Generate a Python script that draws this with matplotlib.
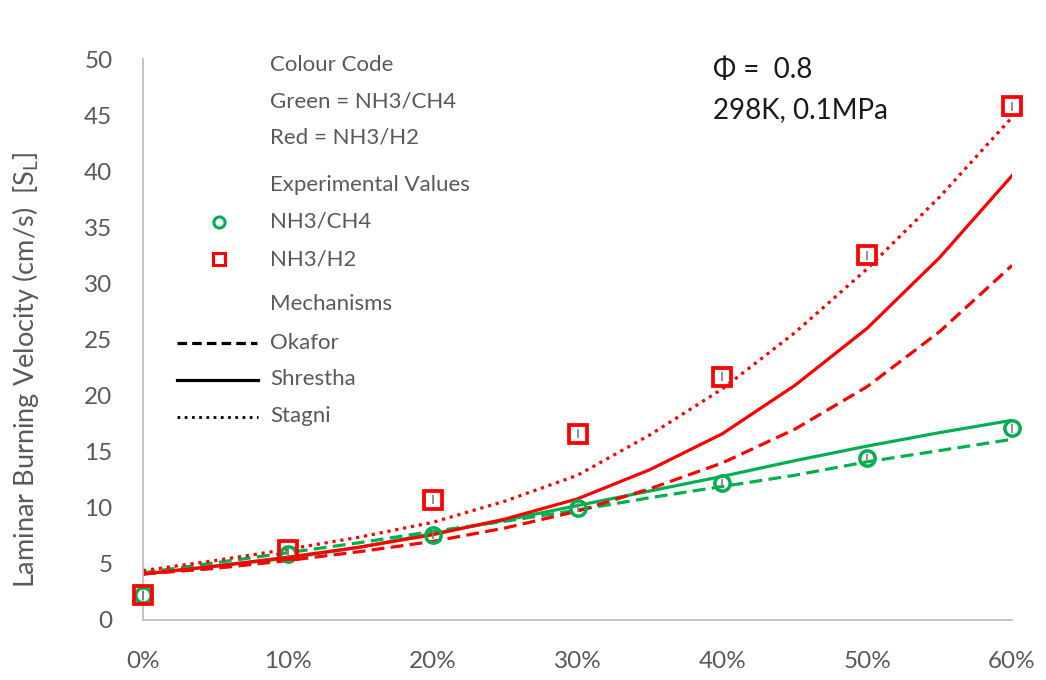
import matplotlib
matplotlib.use("Agg")
import matplotlib.pyplot as plt
from matplotlib.lines import Line2D

plt.rcParams['font.family'] = ['Lato', 'DejaVu Sans']

# experimental points (fraction of fuel, %)
x_exp = [0, 10, 20, 30, 40, 50, 60]
ch4_exp = [2.2, 5.9, 7.6, 10.0, 12.2, 14.4, 17.1]
h2_exp = [2.2, 6.2, 10.7, 16.6, 21.7, 32.5, 45.8]
exp_err = 0.4

# mechanism curves, read every 5 %
x_mech = [0, 5, 10, 15, 20, 25, 30, 35, 40, 45, 50, 55, 60]
h2_okafor = [4.1, 4.6, 5.3, 6.1, 7.0, 8.2, 9.7, 11.7, 14.0, 17.0, 20.8, 25.7, 31.6]
h2_shrestha = [4.1, 4.8, 5.6, 6.5, 7.6, 9.0, 10.8, 13.4, 16.6, 20.9, 26.0, 32.3, 39.6]
h2_stagni = [4.4, 5.3, 6.3, 7.4, 8.7, 10.6, 12.9, 16.5, 20.6, 25.6, 31.3, 37.7, 44.8]
ch4_okafor = [4.2, 5.1, 6.0, 6.9, 7.9, 8.8, 9.8, 10.9, 11.9, 12.9, 14.1, 15.1, 16.1]
ch4_shrestha = [4.1, 4.8, 5.5, 6.5, 7.7, 8.9, 10.2, 11.5, 12.8, 14.2, 15.5, 16.7, 17.8]

RED = '#FF0000'
GREEN = '#00B050'
GREY = '#595959'
W, H = 1046, 680

fig = plt.figure(figsize=(W / 100, H / 100), dpi=100)
ax = fig.add_axes([143 / W, 1 - 620 / H, (1012 - 143) / W, (620 - 59) / H])

lw = 2.3
style = dict(lw=lw, solid_joinstyle='round', dash_joinstyle='round')
ax.plot(x_mech, ch4_okafor, color=GREEN, ls=(0, (4, 2)), **style)
ax.plot(x_mech, ch4_shrestha, color=GREEN, **style)
ax.plot(x_mech, h2_okafor, color=RED, ls=(0, (4, 2)), **style)
ax.plot(x_mech, h2_shrestha, color=RED, **style)
ax.plot(x_mech, h2_stagni, color=RED, ls=(0, (1, 1.5)), **style)

ax.errorbar(x_exp, ch4_exp, yerr=exp_err, fmt='o', ms=11, mfc='none', mec=GREEN,
            mew=2.5, ecolor='#7f7f7f', elinewidth=1.2, clip_on=False, zorder=5)
ax.errorbar(x_exp, h2_exp, yerr=exp_err, fmt='s', ms=12.5, mfc='none', mec=RED,
            mew=2.7, ecolor='#7f7f7f', elinewidth=1.2, clip_on=False, zorder=6)

ax.set_xlim(0, 60)
ax.set_ylim(0, 50)
ax.set_xticks(range(0, 61, 10))
ax.set_xticklabels(['%d%%' % v for v in range(0, 61, 10)])
ax.set_yticks(range(0, 51, 5))
for s in ['top', 'right']:
    ax.spines[s].set_visible(False)
for s in ['left', 'bottom']:
    ax.spines[s].set_color('#BFBFBF')
    ax.spines[s].set_linewidth(1.3)
ax.tick_params(length=0, labelsize=17.5, labelcolor=GREY, pad=22)
ax.tick_params(axis='x', pad=22)

ax.set_ylabel(r'Laminar Burning Velocity (cm/s)  [S$_\mathregular{L}$]',
              fontsize=19.5, color=GREY)
ax.yaxis.set_label_coords(-0.117, 0.445)


def fx(px):
    return px / W


def fy(py):
    return 1 - py / H


# hand-made legend
tx = 270
lab = dict(fontsize=16, color=GREY, va='center', ha='left')
fig.text(fx(tx), fy(65), 'Colour Code', **lab)
fig.text(fx(tx), fy(102), 'Green = NH3/CH4', **lab)
fig.text(fx(tx), fy(138), 'Red = NH3/H2', **lab)
fig.text(fx(tx), fy(185), 'Experimental Values', **lab)
fig.text(fx(tx), fy(222), 'NH3/CH4', **lab)
fig.text(fx(tx), fy(259), 'NH3/H2', **lab)
fig.text(fx(tx), fy(304), 'Mechanisms', **lab)
fig.text(fx(tx), fy(343), 'Okafor', **lab)
fig.text(fx(tx), fy(379), 'Shrestha', **lab)
fig.text(fx(tx), fy(416), 'Stagni', **lab)

fig.add_artist(Line2D([fx(219)], [fy(222)], marker='o', ms=8, mfc='none',
                      mec=GREEN, mew=2.2, ls='none'))
fig.add_artist(Line2D([fx(219)], [fy(259)], marker='s', ms=8, mfc='none',
                      mec=RED, mew=2.2, ls='none'))
fig.add_artist(Line2D([fx(177), fx(257)], [fy(343), fy(343)], color='black',
                      lw=2.3, ls=(0, (3, 1.6))))
fig.add_artist(Line2D([fx(177), fx(258)], [fy(380), fy(380)], color='black',
                      lw=2.3))
fig.add_artist(Line2D([fx(177), fx(258)], [fy(417), fy(417)], color='black',
                      lw=2.0, ls=(0, (1, 1.6))))

fig.text(fx(713), fy(70), 'Φ =  0.8', fontsize=20, color='#1a1a1a', va='center')
fig.text(fx(713), fy(110), '298K, 0.1MPa', fontsize=20, color='#1a1a1a',
         va='center')

fig.savefig('out.png', dpi=100)
